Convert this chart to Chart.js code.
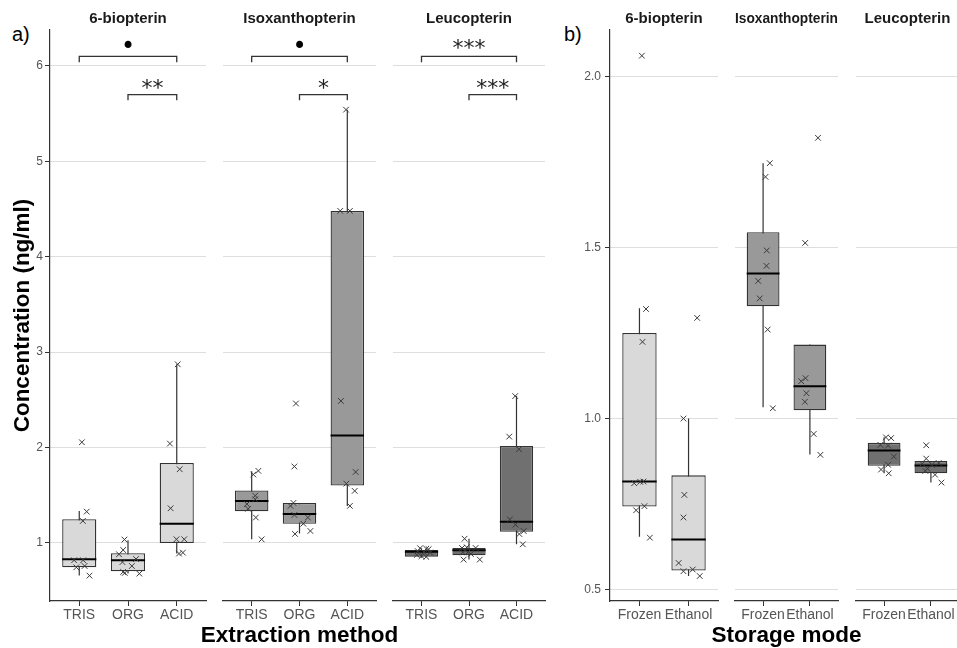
<!DOCTYPE html>
<html>
<head>
<meta charset="utf-8">
<script src="https://cdn.jsdelivr.net/npm/chart.js@4.4.1/dist/chart.umd.min.js"></script>
<style>
  html, body { margin: 0; padding: 0; background: #fff; }
  #wrap { position: relative; width: 957px; height: 648px; overflow: hidden; }
  .facet { position: absolute; top: 0; }
  .tag { position: absolute; font: 20px "Liberation Sans", Arial, sans-serif; line-height: 20px; color: #000; }
  .xtitle { position: absolute; top: 621px; width: 300px; text-align: center; white-space: nowrap;
            font: bold 22.5px "Liberation Sans", Arial, sans-serif; line-height: 27px; color: #000; }
</style>
</head>
<body>
<div id="wrap">
  <div class="tag" style="left:12px;top:24px">a)</div>
  <div class="tag" style="left:564px;top:24px">b)</div>
  <canvas id="a1" class="facet" width="211" height="648" style="left:0px"></canvas>
  <canvas id="a2" class="facet" width="163" height="648" style="left:218px"></canvas>
  <canvas id="a3" class="facet" width="162" height="648" style="left:388px"></canvas>
  <canvas id="b1" class="facet" width="173" height="648" style="left:550px"></canvas>
  <canvas id="b2" class="facet" width="113" height="648" style="left:730px"></canvas>
  <canvas id="b3" class="facet" width="113" height="648" style="left:851px"></canvas>
  <div class="xtitle" id="xtitle-a" style="left:149.5px"></div>
  <div class="xtitle" id="xtitle-b" style="left:636.5px"></div>
</div>
<script>
// categories / facets
const extractionMethods = ['TRIS', 'ORG', 'ACID'];
const storageModes = ['Frozen', 'Ethanol'];
const pterinNames = ['6-biopterin', 'Isoxanthopterin', 'Leucopterin'];
const extractionTicks = [1, 2, 3, 4, 5, 6];
const storageTicks = [0.5, 1.0, 1.5, 2.0];

// box stats per group: [lower whisker, Q1, median, Q3, upper whisker]
// a) extraction method
const bioExtBoxes = [[0.66, 0.745, 0.83, 1.25, 1.335], [0.68, 0.703, 0.819, 0.892, 1.03], [0.89, 1.0, 1.203, 1.839, 2.873]];
const bioExtValues = [
  [2.056, 1.329, 1.231, 0.819, 0.819, 0.745, 0.759, 0.658],
  [1.036, 0.882, 0.927, 0.832, 0.80, 0.759, 0.696, 0.686, 0.679],
  [2.873, 2.042, 1.773, 1.364, 1.039, 1.039, 0.889, 0.899]
];
const bioExtJitter = [
  [0.054, 0.153, 0.074, -0.106, 0.08, -0.06, 0.11, 0.21],
  [-0.073, -0.185, -0.1, 0.165, -0.114, 0.08, -0.1, -0.066, 0.233],
  [0.02, -0.14, 0.06, -0.126, -0.006, 0.153, 0.046, 0.126]
];

const isoExtBoxes = [[1.038, 1.332, 1.439, 1.55, 1.752], [1.1, 1.202, 1.305, 1.42, 1.42], [1.389, 1.603, 2.126, 4.481, 5.542]];
const isoExtValues = [
  [1.756, 1.718, 1.496, 1.458, 1.408, 1.359, 1.267, 1.038],
  [2.462, 1.802, 1.42, 1.389, 1.294, 1.267, 1.202, 1.095, 1.126],
  [5.542, 4.481, 4.481, 2.489, 1.744, 1.622, 1.546, 1.389]
];
const isoExtJitter = [
  [0.14, 0.034, 0.074, 0.074, -0.1, -0.074, 0.087, 0.208],
  [-0.074, -0.107, -0.127, -0.188, -0.107, 0.175, 0.08, -0.094, 0.228],
  [-0.027, -0.148, 0.054, -0.134, 0.174, -0.02, 0.154, 0.054]
];

const leuExtBoxes = [[0.845, 0.857, 0.909, 0.927, 0.945], [0.826, 0.871, 0.923, 0.948, 1.045], [0.986, 1.118, 1.223, 2.017, 2.54]];
const leuExtValues = [
  [0.945, 0.94, 0.935, 0.915, 0.905, 0.90, 0.875, 0.862, 0.855],
  [1.045, 0.948, 0.955, 0.948, 0.902, 0.902, 0.826, 0.826, 0.885],
  [2.54, 2.115, 1.983, 1.247, 1.192, 1.125, 1.094, 0.986]
];
const leuExtJitter = [
  [-0.03, 0.1, 0.15, -0.08, 0.05, 0.18, -0.1, 0.0, 0.1],
  [-0.093, -0.147, -0.047, 0.14, -0.127, -0.027, -0.113, 0.227, 0.04],
  [-0.027, -0.153, 0.053, -0.14, -0.02, 0.153, 0.06, 0.133]
];

// b) storage mode
const bioStoBoxes = [[0.655, 0.743, 0.816, 1.25, 1.322], [0.54, 0.556, 0.647, 0.834, 1.0]];
const bioStoValues = [
  [2.06, 1.32, 1.224, 0.811, 0.815, 0.816, 0.732, 0.744, 0.652],
  [1.294, 1.0, 0.777, 0.711, 0.578, 0.554, 0.559, 0.54]
];
const bioStoJitter = [
  [0.049, 0.134, 0.062, -0.107, 0.016, 0.081, -0.068, 0.101, 0.212],
  [0.176, -0.104, -0.085, -0.104, -0.202, -0.104, 0.085, 0.228]
];

const isoStoBoxes = [[1.033, 1.328, 1.424, 1.544, 1.746], [0.895, 1.024, 1.094, 1.216, 1.216]];
const isoStoValues = [
  [1.746, 1.706, 1.491, 1.446, 1.402, 1.351, 1.26, 1.03],
  [1.82, 1.513, 1.118, 1.109, 1.074, 1.049, 0.955, 0.894]
];
const isoStoJitter = [
  [0.143, 0.052, 0.078, 0.072, -0.104, -0.072, 0.098, 0.208],
  [0.173, -0.101, -0.094, -0.186, -0.075, -0.107, 0.081, 0.224]
];

const leuStoBoxes = [[0.84, 0.862, 0.907, 0.929, 0.945], [0.813, 0.84, 0.863, 0.876, 0.876]];
const leuStoValues = [
  [0.945, 0.943, 0.923, 0.921, 0.889, 0.865, 0.851, 0.84],
  [0.922, 0.883, 0.868, 0.87, 0.854, 0.847, 0.836, 0.813, 0.865]
];
const leuStoJitter = [
  [0.039, 0.15, -0.078, 0.085, 0.208, 0.085, -0.065, 0.098],
  [-0.1, -0.1, -0.186, 0.166, -0.075, -0.12, 0.088, 0.225, 0.02]
];

// significance brackets (panel a): spans between groups, heights, label heights
const bracketSpans = [[0, 2], [1, 2]];
const bracketHeights = [6.10, 5.70];
const bracketTip = 0.06;
const bracketLabelY = [6.227, 5.815];
const bioSig = ['•', '**'];
const isoSig = ['•', '*'];
const leuSig = ['***', '***'];

const fills = ['#d9d9d9', '#999999', '#707070'];
const panelTitles = ['Extraction method', 'Storage mode'];

Chart.defaults.font.family = '"Liberation Sans", Arial, sans-serif';

document.getElementById('xtitle-a').textContent = panelTitles[0];
document.getElementById('xtitle-b').textContent = panelTitles[1];

function sigTextPlugin(items) {
  return {
    id: 'sigText',
    afterDatasetsDraw(chart) {
      const { ctx, scales: { x, y } } = chart;
      ctx.save();
      ctx.textAlign = 'center';
      ctx.textBaseline = 'alphabetic';
      items.forEach(it => {
        ctx.font = it.font;
        ctx.fillStyle = it.color;
        const m = ctx.measureText(it.text);
        const cy = y.getPixelForValue(it.y);
        ctx.fillText(it.text, x.getPixelForValue(it.x), cy + (m.actualBoundingBoxAscent - m.actualBoundingBoxDescent) / 2);
      });
      ctx.restore();
    }
  };
}

function makeFacet(id, cfg) {
  const n = cfg.cats.length;
  const whiskers = [], medians = [], boxes = [], points = [], brackets = [];
  cfg.boxes.forEach((b, i) => {
    whiskers.push({ x: i, y: b[0] }, { x: i, y: b[4] }, { x: i, y: null });
    medians.push({ x: i - 0.35, y: b[2] }, { x: i + 0.35, y: b[2] }, { x: i, y: null });
    boxes.push({ x: i, y: [b[1], b[3]] });
  });
  cfg.values.forEach((vals, i) => vals.forEach((v, k) => points.push({ x: i + cfg.jitter[i][k], y: v })));

  const sigItems = [];
  if (cfg.sig) {
    bracketSpans.forEach((s, j) => {
      const h = bracketHeights[j];
      brackets.push({ x: s[0], y: h - bracketTip }, { x: s[0], y: h }, { x: s[1], y: h }, { x: s[1], y: h - bracketTip }, { x: s[1], y: null });
      const isDot = cfg.sig[j] === '•';
      sigItems.push({
        text: cfg.sig[j], x: (s[0] + s[1]) / 2, y: bracketLabelY[j],
        font: isDot ? '24px "DejaVu Sans"' : '22px "DejaVu Sans"',
        color: isDot ? '#000' : '#222'
      });
    });
  }

  new Chart(document.getElementById(id), {
    type: 'scatter',
    data: {
      datasets: [
        { type: 'scatter', data: points, pointStyle: 'crossRot', pointRadius: 4, borderColor: '#3a3a3a', backgroundColor: '#3a3a3a', borderWidth: 1, order: 0 },
        { type: 'line', data: medians, borderColor: '#000', borderWidth: 2, pointRadius: 0, spanGaps: false, order: 1 },
        { type: 'bar', data: boxes, backgroundColor: cfg.fill, borderColor: '#333', borderWidth: 1.3, borderSkipped: false, categoryPercentage: 1, barPercentage: 0.7, order: 2 },
        { type: 'line', data: whiskers, borderColor: '#333', borderWidth: 1.2, pointRadius: 0, spanGaps: false, order: 3 },
        { type: 'line', data: brackets, borderColor: '#333', borderWidth: 1.3, pointRadius: 0, spanGaps: false, order: 4 }
      ]
    },
    options: {
      responsive: false,
      animation: false,
      devicePixelRatio: 1,
      events: [],
      layout: { padding: 0 },
      plugins: {
        legend: { display: false },
        tooltip: { enabled: false },
        title: {
          display: true, text: cfg.strip, fullSize: false,
          font: { size: 15, weight: 'bold' }, color: '#1a1a1a',
          padding: { top: 10, bottom: 2 }
        }
      },
      scales: {
        x: {
          type: 'linear', min: -0.6, max: n - 0.4, offset: false,
          afterBuildTicks: s => { s.ticks = cfg.cats.map((c, i) => ({ value: i })); },
          afterFit: s => { s.height = 47; },
          ticks: { callback: v => cfg.cats[v], color: '#555', font: { size: 14 }, padding: 1, maxRotation: 0, autoSkip: false },
          grid: { drawOnChartArea: false, drawTicks: true, tickLength: 5, tickColor: '#333', offset: false },
          border: { display: true, color: '#333', width: 1.2 },
          title: { display: false }
        },
        y: {
          type: 'linear', min: cfg.yMin, max: cfg.yMax,
          afterBuildTicks: s => { s.ticks = cfg.yTicks.map(v => ({ value: v })); },
          afterFit: s => { s.width = cfg.axisWidth; },
          ticks: { display: cfg.showY, callback: cfg.yFmt, color: '#555', font: { size: 12 }, padding: cfg.tickPad },
          grid: { color: '#dedede', lineWidth: 1, drawTicks: cfg.showY, tickLength: 5, tickColor: '#333' },
          border: { display: cfg.showY, color: '#333', width: 1.2 },
          title: { display: !!cfg.yTitle, text: cfg.yTitle || '', font: { size: 22.5, weight: 'bold' }, color: '#000', padding: { top: 9, bottom: 0 } }
        }
      }
    },
    plugins: [sigTextPlugin(sigItems)]
  });
}

const panelA = { cats: extractionMethods, yMin: 0.392, yMax: 6.377, yTicks: extractionTicks, yFmt: v => String(v), tickPad: 2 };
const panelB = { cats: storageModes, yMin: 0.467, yMax: 2.135, yTicks: storageTicks, yFmt: v => v.toFixed(1), tickPad: 4 };

makeFacet('a1', Object.assign({}, panelA, { strip: pterinNames[0], boxes: bioExtBoxes, values: bioExtValues, jitter: bioExtJitter, fill: fills[0], showY: true, axisWidth: 50, yTitle: 'Concentration (ng/ml)', sig: bioSig }));
makeFacet('a2', Object.assign({}, panelA, { strip: pterinNames[1], boxes: isoExtBoxes, values: isoExtValues, jitter: isoExtJitter, fill: fills[1], showY: false, axisWidth: 0, sig: isoSig }));
makeFacet('a3', Object.assign({}, panelA, { strip: pterinNames[2], boxes: leuExtBoxes, values: leuExtValues, jitter: leuExtJitter, fill: fills[2], showY: false, axisWidth: 0, sig: leuSig }));
makeFacet('b1', Object.assign({}, panelB, { strip: pterinNames[0], boxes: bioStoBoxes, values: bioStoValues, jitter: bioStoJitter, fill: fills[0], showY: true, axisWidth: 60 }));
makeFacet('b2', Object.assign({}, panelB, { strip: pterinNames[1], boxes: isoStoBoxes, values: isoStoValues, jitter: isoStoJitter, fill: fills[1], showY: false, axisWidth: 0 }));
makeFacet('b3', Object.assign({}, panelB, { strip: pterinNames[2], boxes: leuStoBoxes, values: leuStoValues, jitter: leuStoJitter, fill: fills[2], showY: false, axisWidth: 0 }));
</script>
</body>
</html>
